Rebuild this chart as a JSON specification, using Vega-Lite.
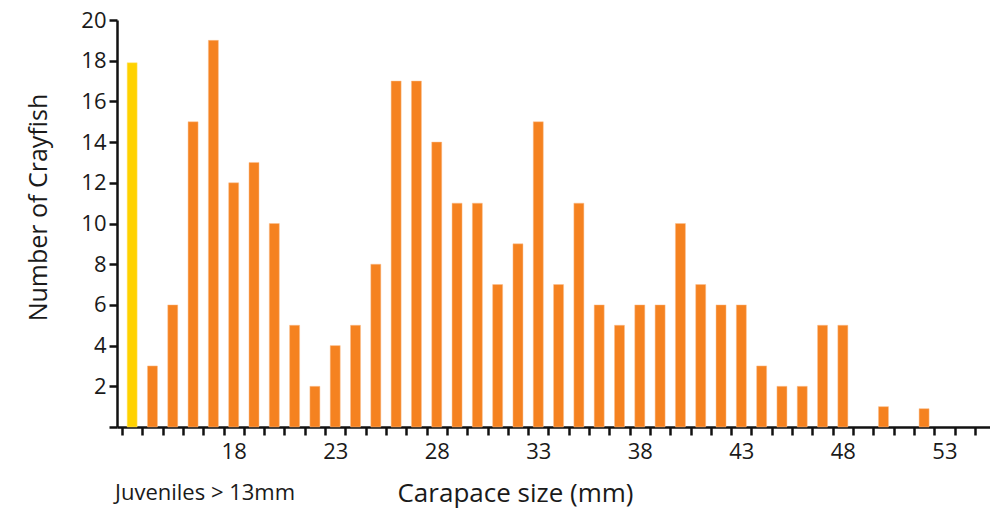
{
  "$schema": "https://vega.github.io/schema/vega-lite/v6.json",
  "width": 873,
  "height": 407,
  "autosize": {"type": "none"},
  "padding": {"left": 117, "top": 20, "right": 0, "bottom": 84},
  "background": "white",
  "config": {
    "view": {"stroke": null},
    "font": "Open Sans",
    "axis": {"grid": false, "domainColor": "#111", "tickColor": "#111", "labelColor": "#1a1a1a", "titleColor": "#1a1a1a", "titleFontWeight": "normal", "labelFont": "Open Sans", "titleFont": "Open Sans"}
  },
  "data": {
    "values": [
      {"size": 13, "count": 17.9, "group": "Juvenile"},
      {"size": 14, "count": 3, "group": "Adult"},
      {"size": 15, "count": 6, "group": "Adult"},
      {"size": 16, "count": 15, "group": "Adult"},
      {"size": 17, "count": 19, "group": "Adult"},
      {"size": 18, "count": 12, "group": "Adult"},
      {"size": 19, "count": 13, "group": "Adult"},
      {"size": 20, "count": 10, "group": "Adult"},
      {"size": 21, "count": 5, "group": "Adult"},
      {"size": 22, "count": 2, "group": "Adult"},
      {"size": 23, "count": 4, "group": "Adult"},
      {"size": 24, "count": 5, "group": "Adult"},
      {"size": 25, "count": 8, "group": "Adult"},
      {"size": 26, "count": 17, "group": "Adult"},
      {"size": 27, "count": 17, "group": "Adult"},
      {"size": 28, "count": 14, "group": "Adult"},
      {"size": 29, "count": 11, "group": "Adult"},
      {"size": 30, "count": 11, "group": "Adult"},
      {"size": 31, "count": 7, "group": "Adult"},
      {"size": 32, "count": 9, "group": "Adult"},
      {"size": 33, "count": 15, "group": "Adult"},
      {"size": 34, "count": 7, "group": "Adult"},
      {"size": 35, "count": 11, "group": "Adult"},
      {"size": 36, "count": 6, "group": "Adult"},
      {"size": 37, "count": 5, "group": "Adult"},
      {"size": 38, "count": 6, "group": "Adult"},
      {"size": 39, "count": 6, "group": "Adult"},
      {"size": 40, "count": 10, "group": "Adult"},
      {"size": 41, "count": 7, "group": "Adult"},
      {"size": 42, "count": 6, "group": "Adult"},
      {"size": 43, "count": 6, "group": "Adult"},
      {"size": 44, "count": 3, "group": "Adult"},
      {"size": 45, "count": 2, "group": "Adult"},
      {"size": 46, "count": 2, "group": "Adult"},
      {"size": 47, "count": 5, "group": "Adult"},
      {"size": 48, "count": 5, "group": "Adult"},
      {"size": 50, "count": 1, "group": "Adult"},
      {"size": 52, "count": 0.9, "group": "Adult"}
    ]
  },
  "resolve": {"axis": {"x": "independent"}},
  "layer": [
    {
      "mark": {"type": "bar", "size": 10, "strokeWidth": 0.8, "strokeOpacity": 0.6},
      "encoding": {
        "x": {
          "field": "size", "type": "quantitative",
          "scale": {"domain": [12.5, 55], "nice": false, "zero": false},
          "axis": {
            "orient": "bottom",
            "title": "Carapace size (mm)",
            "titleFontSize": 26,
            "titleX": 398, "titleY": 66, "titleAlign": "center", "titleBaseline": "middle",
            "values": [12.5,13.5,14.5,15.5,16.5,17.5,18.5,19.5,20.5,21.5,22.5,23.5,24.5,25.5,26.5,27.5,28.5,29.5,30.5,31.5,32.5,33.5,34.5,35.5,36.5,37.5,38.5,39.5,40.5,41.5,42.5,43.5,44.5,45.5,46.5,47.5,48.5,49.5,50.5,51.5,52.5,53.5,54.5],
            "tickCount": 50,
            "labels": false,
            "tickSize": 8,
            "tickWidth": 2.5,
            "domainWidth": 2.5
          }
        },
        "y": {
          "field": "count", "type": "quantitative",
          "scale": {"domain": [0, 20], "nice": false},
          "axis": {
            "title": "Number of Crayfish",
            "titleFontSize": 25,
            "titleAngle": -90,
            "titleX": -79, "titleY": 187, "titleAlign": "center", "titleBaseline": "middle",
            "values": [0,2,4,6,8,10,12,14,16,18,20],
            "labelExpr": "datum.value == 0 ? '' : datum.label",
            "labelFontSize": 22,
            "labelPadding": 3,
            "tickSize": 8,
            "tickWidth": 2.5,
            "domainWidth": 2.5
          }
        },
        "color": {
          "field": "group", "type": "nominal",
          "scale": {"domain": ["Juvenile", "Adult"], "range": ["#FFD200", "#F58220"]},
          "legend": null
        },
        "stroke": {
          "field": "group", "type": "nominal",
          "scale": {"domain": ["Juvenile", "Adult"], "range": ["#FFE680", "#FAC08F"]},
          "legend": null
        }
      }
    },
    {
      "data": {"values": [{"label": "Juveniles > 13mm", "pos": 12.5, "base": 0}]},
      "mark": {"type": "text", "align": "left", "baseline": "middle", "dx": -7, "dy": 66, "fontSize": 22, "font": "Open Sans", "color": "#1a1a1a"},
      "encoding": {
        "x": {
          "field": "pos", "type": "quantitative",
          "axis": {
            "orient": "bottom",
            "title": null,
            "values": [18, 23, 28, 33, 38, 43, 48, 53],
            "labelFontSize": 22,
            "labelPadding": 14,
            "labelFlush": false,
            "ticks": false,
            "domain": false
          }
        },
        "y": {"field": "base", "type": "quantitative"},
        "text": {"field": "label"}
      }
    }
  ]
}
